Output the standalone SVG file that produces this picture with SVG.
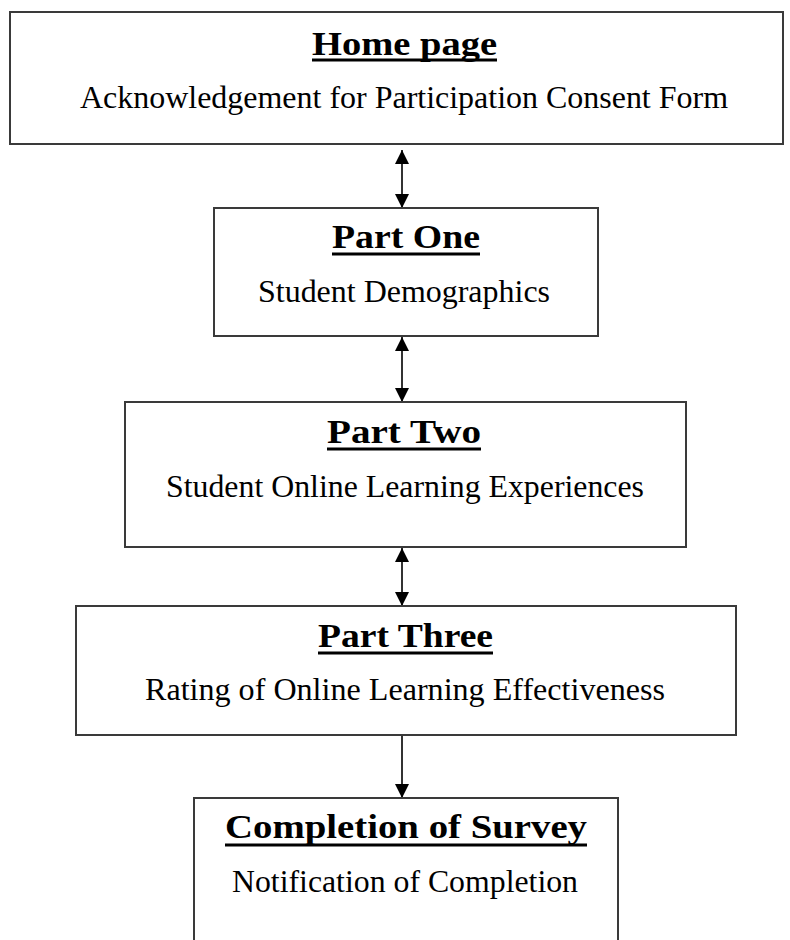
<svg xmlns="http://www.w3.org/2000/svg" width="790" height="940" viewBox="0 0 790 940">
  <style>
    .box { fill: #ffffff; stroke: #3a3a3a; stroke-width: 2; }
    .title { font-family: "Liberation Serif", "Times New Roman", serif; font-weight: bold; font-size: 34px; fill: #000; text-anchor: middle; }
    .sub { font-family: "Liberation Serif", "Times New Roman", serif; font-size: 32px; fill: #000; text-anchor: middle; }
    .ul { stroke: #000; stroke-width: 3; }
    .link { stroke: #333; stroke-width: 2; fill: none; }
    .head { fill: #000; }
  </style>
  <defs>
    <marker id="arrow" viewBox="0 0 14 14" refX="14" refY="7" markerWidth="14" markerHeight="14" markerUnits="userSpaceOnUse" orient="auto-start-reverse">
      <path class="head" d="M0,0 L14,7 L0,14 Z"/>
    </marker>
  </defs>

  <rect width="790" height="940" fill="#ffffff"/>

  <g id="connectors">
    <line class="link" x1="402" y1="150" x2="402" y2="208" marker-start="url(#arrow)" marker-end="url(#arrow)"/>
    <line class="link" x1="402" y1="337" x2="402" y2="402" marker-start="url(#arrow)" marker-end="url(#arrow)"/>
    <line class="link" x1="402" y1="548" x2="402" y2="606" marker-start="url(#arrow)" marker-end="url(#arrow)"/>
    <line class="link" x1="402" y1="735" x2="402" y2="798" marker-end="url(#arrow)"/>
  </g>

  <g id="home-page">
    <rect class="box" x="10" y="12" width="773" height="132"/>
    <text class="title" x="404.5" y="55" font-size="37" textLength="185" lengthAdjust="spacingAndGlyphs">Home page</text>
    <line class="ul" x1="312" y1="60" x2="497" y2="60"/>
    <text class="sub" x="404" y="108" font-size="34" textLength="648" lengthAdjust="spacingAndGlyphs">Acknowledgement for Participation Consent Form</text>
  </g>

  <g id="part-one">
    <rect class="box" x="214" y="208" width="384" height="128"/>
    <text class="title" x="406" y="248" textLength="148" lengthAdjust="spacingAndGlyphs">Part One</text>
    <line class="ul" x1="332" y1="254" x2="480" y2="254"/>
    <text class="sub" x="404" y="302" textLength="292" lengthAdjust="spacingAndGlyphs">Student Demographics</text>
  </g>

  <g id="part-two">
    <rect class="box" x="125" y="402" width="561" height="145"/>
    <text class="title" x="404" y="443" textLength="154" lengthAdjust="spacingAndGlyphs">Part Two</text>
    <line class="ul" x1="327" y1="449" x2="481" y2="449"/>
    <text class="sub" x="405" y="497" textLength="478" lengthAdjust="spacingAndGlyphs">Student Online Learning Experiences</text>
  </g>

  <g id="part-three">
    <rect class="box" x="76" y="606" width="660" height="129"/>
    <text class="title" x="405.5" y="647" textLength="175" lengthAdjust="spacingAndGlyphs">Part Three</text>
    <line class="ul" x1="318" y1="653" x2="493" y2="653"/>
    <text class="sub" x="405" y="700" textLength="520" lengthAdjust="spacingAndGlyphs">Rating of Online Learning Effectiveness</text>
  </g>

  <g id="completion">
    <rect class="box" x="194" y="798" width="424" height="160"/>
    <text class="title" x="406" y="838" textLength="362" lengthAdjust="spacingAndGlyphs">Completion of Survey</text>
    <line class="ul" x1="225" y1="845" x2="587" y2="845"/>
    <text class="sub" x="405" y="892" textLength="346" lengthAdjust="spacingAndGlyphs">Notification of Completion</text>
  </g>
</svg>
